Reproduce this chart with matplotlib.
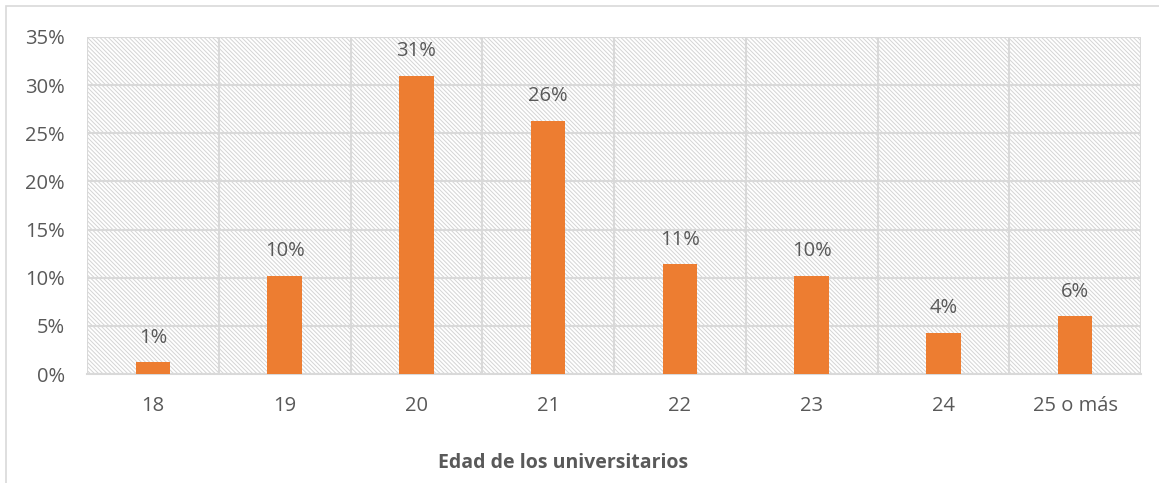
import numpy as np
import matplotlib.pyplot as plt
from matplotlib.patches import Rectangle
from matplotlib.ticker import MultipleLocator, PercentFormatter

plt.rcParams['hatch.linewidth'] = 0.7
plt.rcParams['font.family'] = ['Open Sans', 'DejaVu Sans']

categories = ['18', '19', '20', '21', '22', '23', '24', '25 o más']
values = [1.2, 10.2, 31.0, 26.3, 11.4, 10.2, 4.3, 6.0]
labels = ['1%', '10%', '31%', '26%', '11%', '10%', '4%', '6%']

text_col = '#595959'
grid_col = '#d9d9d9'

fig = plt.figure(figsize=(11.59, 4.83), dpi=100)
ax = fig.add_axes([87/1159, 1 - 374/483, (1141 - 87)/1159, (374 - 37)/483])

# outer chart border
fig.patches.append(Rectangle((6/1159, -0.01), 1.02, 1 - 6/483 + 0.01, transform=fig.transFigure,
                             fill=False, edgecolor=grid_col, linewidth=1.2))

# hatched plot background
ax.add_patch(Rectangle((0, 0), 1, 1, transform=ax.transAxes, facecolor='white',
                       edgecolor='#d4d4d4', hatch='\\' * 8, linewidth=0, zorder=0))

x = np.arange(len(categories))
ax.bar(x, values, width=0.26, color='#ed7d31', zorder=3)
for xi, v, lab in zip(x, values, labels):
    ax.text(xi, v + 1.5, lab, ha='center', va='bottom', fontsize=14.5, color=text_col, zorder=4)

ax.set_xlim(-0.5, len(categories) - 0.5)
ax.set_ylim(0, 35)
ax.yaxis.set_major_locator(MultipleLocator(5))
ax.yaxis.set_major_formatter(PercentFormatter(decimals=0))
ax.set_xticks(x)
ax.set_xticklabels(categories)
ax.set_xticks(np.arange(len(categories) + 1) - 0.5, minor=True)

ax.grid(axis='y', which='major', color=grid_col, linewidth=1.5, zorder=1)
ax.grid(axis='x', which='minor', color=grid_col, linewidth=1.5, zorder=1)
ax.tick_params(which='both', length=0, labelsize=14.5, colors=text_col)
ax.tick_params(axis='x', pad=16)
ax.tick_params(axis='y', pad=16)
for s in ax.spines.values():
    s.set_visible(False)
ax.spines['bottom'].set_visible(True)
ax.spines['bottom'].set_color(grid_col)
ax.spines['bottom'].set_linewidth(1.5)
ax.set_axisbelow(True)

fig.text(563/1159, 1 - 463/483, 'Edad de los universitarios', ha='center', va='center',
         fontsize=14, fontweight='bold', color=text_col)

fig.savefig('out.png', dpi=100)
